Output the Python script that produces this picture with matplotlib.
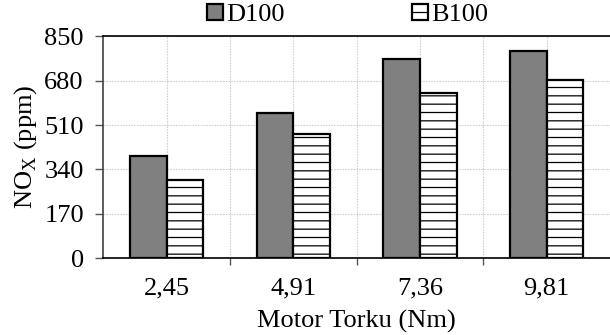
import matplotlib
matplotlib.use('Agg')
import matplotlib.pyplot as plt
import numpy as np

# NOx emissions
torque_labels = ['2,45', '4,91', '7,36', '9,81']
d100 = [393, 555, 762, 792]
b100 = [300, 475, 632, 684]
y_ticks = [0, 170, 340, 510, 680, 850]

plt.rcParams['font.family'] = ['Liberation Serif', 'DejaVu Serif']
plt.rcParams['mathtext.fontset'] = 'custom'
plt.rcParams['mathtext.rm'] = 'Liberation Serif'
plt.rcParams['hatch.linewidth'] = 0.9

fs = 19

fig = plt.figure(figsize=(6.1, 3.35), dpi=100)
ax = fig.add_axes([0.1693, 0.229, 0.8307, 0.6626])

x = np.arange(len(torque_labels))
w = 0.29
ax.bar(x - w / 2, d100, w, color='#808080', edgecolor='black', linewidth=1.6,
       label='D100', zorder=3)
ax.bar(x + w / 2, b100, w, color='white', edgecolor='black', linewidth=1.6,
       hatch='--', label='B100', zorder=3)

ax.set_xlim(-0.5, 3.5)
ax.set_ylim(0, 850)
ax.set_yticks(y_ticks)
ax.set_xticks(x)
ax.set_xticklabels(torque_labels)
ax.set_xticks([0.5, 1.5, 2.5], minor=True)

ax.tick_params(axis='x', which='major', length=0, pad=14, labelsize=fs)
ax.tick_params(axis='x', which='minor', length=5, width=1, color='#555555')
ax.tick_params(axis='y', length=6, width=1, color='#555555', pad=8, labelsize=fs)

ax.grid(True, axis='x', which='both', color='#d0d0d0', linestyle=(0, (1.5, 1)),
        linewidth=0.8, zorder=0)
ax.grid(True, axis='y', which='major', color='#d0d0d0', linestyle=(0, (1.5, 1)),
        linewidth=0.8, zorder=0)

ax.spines['right'].set_visible(False)
ax.spines['left'].set_color('#404040')
ax.spines['left'].set_linewidth(1.2)
ax.spines['bottom'].set_color('black')
ax.spines['bottom'].set_linewidth(1.2)
ax.spines['top'].set_color('black')
ax.spines['top'].set_linewidth(1.2)

ax.set_ylabel(r'NO$_\mathregular{X}$ (ppm)', fontsize=fs, labelpad=4)
ax.set_xlabel('Motor Torku (Nm)', fontsize=fs, labelpad=7)

fig.legend(loc='center', bbox_to_anchor=(0.57, 0.955), ncol=2, frameon=False,
           fontsize=fs, handlelength=0.6, handleheight=0.6, handletextpad=0.15,
           columnspacing=4.8, borderpad=0)

fig.savefig('out.png', dpi=100)
